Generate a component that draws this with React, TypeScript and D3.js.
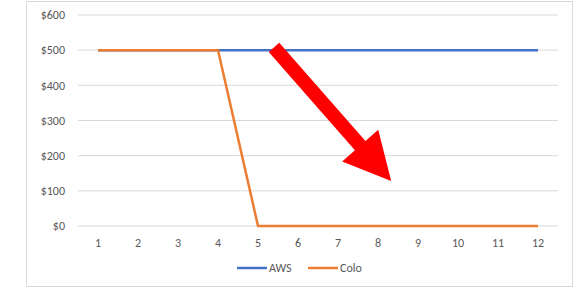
import { useEffect, useRef } from 'react'
import * as d3 from 'd3'

const months = ['1', '2', '3', '4', '5', '6', '7', '8', '9', '10', '11', '12']
const awsValues = [500, 500, 500, 500, 500, 500, 500, 500, 500, 500, 500, 500]
const coloValues = [500, 500, 500, 500, 0, 0, 0, 0, 0, 0, 0, 0]
const yTicks = [0, 100, 200, 300, 400, 500, 600]
const seriesNames = ['AWS', 'Colo']
const seriesColors = ['#4472C4', '#ED7D31']

// annotation arrow, in data units: tail (month 5.4, $508) -> tip (month 8.3, $128)
const arrowTail = { x: 5.4, y: 508 }
const arrowTip = { x: 8.33, y: 128 }

const W = 578
const H = 290

export default function App() {
  const ref = useRef<SVGSVGElement | null>(null)

  useEffect(() => {
    if (!ref.current) {return}
    const svg = d3.select(ref.current)
    svg.selectAll('*').remove()

    const font = "Calibri, Carlito, 'Open Sans', 'Liberation Sans', sans-serif"
    const left = 78
    const right = 558
    const top = 15
    const bottom = 226

    svg
      .append('rect')
      .attr('x', 26.5)
      .attr('y', 1.5)
      .attr('width', 546)
      .attr('height', 285)
      .attr('fill', '#fff')
      .attr('stroke', '#d9d9d9')

    const x = d3.scaleBand().domain(months).range([left, right])
    const cx = (i: number) => (x(months[i]) ?? 0) + x.bandwidth() / 2
    const y = d3.scaleLinear().domain([0, 600]).range([bottom, top])
    const xNum = d3.scaleLinear().domain([1, 12]).range([cx(0), cx(11)])

    const grid = svg.append('g')
    grid
      .selectAll('line')
      .data(yTicks)
      .join('line')
      .attr('x1', left)
      .attr('x2', right)
      .attr('y1', (d) => y(d))
      .attr('y2', (d) => y(d))
      .attr('stroke', '#d9d9d9')
      .attr('stroke-width', 1)

    svg
      .append('g')
      .selectAll('text')
      .data(yTicks)
      .join('text')
      .attr('x', 65)
      .attr('y', (d) => y(d))
      .attr('dy', '0.35em')
      .attr('text-anchor', 'end')
      .attr('fill', '#595959')
      .style('font-family', font)
      .style('font-size', '12px')
      .text((d) => `$${d}`)

    svg
      .append('g')
      .selectAll('text')
      .data(months)
      .join('text')
      .attr('x', (d, i) => cx(i))
      .attr('y', 243)
      .attr('dy', '0.35em')
      .attr('text-anchor', 'middle')
      .attr('fill', '#595959')
      .style('font-family', font)
      .style('font-size', '12px')
      .text((d) => d)

    const line = d3
      .line<number>()
      .x((d, i) => cx(i))
      .y((d) => y(d))

    ;[awsValues, coloValues].forEach((vals, k) => {
      svg
        .append('path')
        .datum(vals)
        .attr('fill', 'none')
        .attr('stroke', seriesColors[k])
        .attr('stroke-width', 2.5)
        .attr('stroke-linejoin', 'round')
        .attr('d', line)
    })

    // legend
    const legendX = [237, 308]
    seriesNames.forEach((name, k) => {
      svg
        .append('line')
        .attr('x1', legendX[k])
        .attr('x2', legendX[k] + 30)
        .attr('y1', 268)
        .attr('y2', 268)
        .attr('stroke', seriesColors[k])
        .attr('stroke-width', 2.5)
      svg
        .append('text')
        .attr('x', legendX[k] + 32)
        .attr('y', 268)
        .attr('dy', '0.35em')
        .attr('fill', '#595959')
        .style('font-family', font)
        .style('font-size', '12px')
        .text(name)
    })

    // red arrow annotation
    const x0 = xNum(arrowTail.x)
    const y0 = y(arrowTail.y)
    const x1 = xNum(arrowTip.x)
    const y1 = y(arrowTip.y)
    const len = Math.hypot(x1 - x0, y1 - y0)
    const ux = (x1 - x0) / len
    const uy = (y1 - y0) / len
    const px = uy
    const py = -ux
    const shaftHalf = 7
    const headHalf = 24
    const headLen = 47
    const bx = x1 - ux * headLen
    const by = y1 - uy * headLen
    const pts: [number, number][] = [
      [x0 + px * shaftHalf, y0 + py * shaftHalf],
      [bx + px * shaftHalf, by + py * shaftHalf],
      [bx + px * headHalf, by + py * headHalf],
      [x1, y1],
      [bx - px * headHalf, by - py * headHalf],
      [bx - px * shaftHalf, by - py * shaftHalf],
      [x0 - px * shaftHalf, y0 - py * shaftHalf],
    ]
    svg
      .append('polygon')
      .attr('points', pts.map((p) => p.join(',')).join(' '))
      .attr('fill', '#FF0000')
  }, [])

  return (
    <svg
      ref={ref}
      width={W}
      height={H}
      style={{ position: 'absolute', left: 0, top: 0, display: 'block', background: '#fff' }}
    />
  )
}
